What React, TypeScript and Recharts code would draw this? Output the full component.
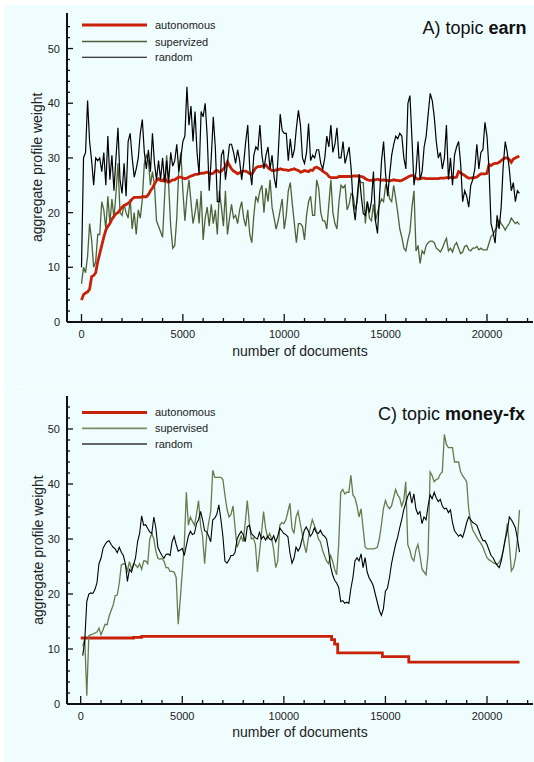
import React from 'react';
import { LineChart, Line, XAxis, YAxis } from 'recharts';

// ---------- data ----------
const DOC_STEP = 100; // documents between consecutive samples (sample i is at i * DOC_STEP)

// Panel A: topic earn
const earnAutonomous = [
  4, 5, 5.3, 5.5, 6, 8.3, 8.5, 9, 11, 12.5,
  14, 15.5, 16.8, 17.5, 18, 18.8, 19.3, 19.8, 20, 20.5,
  21, 21.3, 21.5, 21.7, 22, 22.5, 22.8, 22.8, 22.8, 22.8,
  22.9, 22.9, 22.9, 23.3, 24, 24.5, 25.2, 25.9, 26.2, 25.9,
  25.8, 26.3, 25.8, 25.5, 25.8, 26, 26, 26.3, 26.5, 26.5,
  26.3,
  26.2, 26.3, 26.5, 26.7, 26.8, 27, 27, 27.1, 27.2, 27.2,
  27.3, 27.4, 27.2, 27.1, 27.2, 27.6, 27.7, 27.4, 27.6, 28,
  28.4, 29.3, 28.6, 28, 27.6, 27.4, 27.1, 27.3, 27.5, 27.6,
  27.6, 27.4, 27.1, 27, 27.6, 28.2, 28.4, 28.4, 28.5, 28.5,
  28.7, 28.2, 27.9, 27.7, 27.7, 27.8, 27.8, 28, 27.9, 27.8,
  27.8, 27.7, 27.8, 27.9, 28, 27.8, 27.7,
  27.4, 27.5, 27.7, 27.6, 27.5, 27.8, 27.7, 28.2, 28.3, 28.1,
  27.9, 27.6, 27.3, 27.1, 26.6, 26.4, 26.4, 26.4, 26.4, 26.6,
  26.6, 26.6, 26.6, 26.6, 26.6, 26.6, 26.7, 26.7, 26.7, 26.7,
  26.6, 26.5, 26.2, 26, 25.9, 25.9, 26, 26, 26.1, 26,
  25.9, 26, 25.9, 25.9, 25.8, 25.9, 26, 25.9, 25.9, 25.8,
  25.9, 26.1, 26.3, 26.5, 26.7, 26.8, 26.7,
  26.3, 26.1, 26.2, 26.3, 26.3, 26.2, 26.2, 26.2, 26.2, 26.2,
  26.2, 26.2, 26.3, 26.3, 26.3, 26.4, 26.4, 26.4, 26.4, 26.4,
  26.5, 27.5, 27.3, 27, 26.8, 26.5, 26.3, 26.3, 26.4, 26.4,
  26.5, 26.8, 27.1, 27.1, 27.1, 27.2, 28.8, 28.6, 28.9, 29,
  29, 29.2, 29.5, 29.8, 30, 30, 29.7, 29.2, 29.8, 30,
  30.2, 30.3,
];

const earnSupervized = [
  7, 10, 9, 12, 18, 15, 10, 11, 16, 16,
  22, 20.5, 17, 23, 18, 22.5, 19, 23.5, 29, 20,
  19.5, 21.5, 20, 19, 22.5, 17, 20, 16, 20.5, 19,
  22.5, 29, 30.5, 29.5, 25, 27.5, 25, 18.5, 17.5, 16.5,
  15.5, 23, 30.5, 25, 17.5, 13.5, 14, 19, 28, 31,
  24,
  18.5, 23, 26, 22, 18, 20, 22.5, 18, 24, 15,
  19, 21, 17.5, 21.5, 18, 20.5, 16, 24, 21, 17.5,
  24, 16, 19, 21.5, 19, 19.5, 18, 20.5, 22, 19,
  17.5, 20.5, 16, 14.5, 19.5, 23, 22, 24, 25, 20,
  24.5, 22, 26, 21, 19, 17, 18.5, 20.5, 22.5, 17,
  19.5, 24, 25.5, 21.5, 18, 14.5, 18,
  18, 17.5, 15, 19.5, 22, 23, 19.5, 19.5, 26, 24.5,
  20, 18.5, 18.5, 17, 21.5, 26, 20, 18, 17, 22,
  25, 24.5, 25, 20.5, 21.5, 23.5, 23, 20.5, 22, 26,
  25.5, 25.5, 18, 22, 19, 18.5, 21.5, 18.5, 20, 21.5,
  22.5, 22, 25, 24.5, 22.5, 22, 25, 22.5, 20, 17,
  15.5, 13.5, 13, 15, 16.5, 21, 24,
  13, 14, 10.7, 13, 12.5, 14, 14.5, 14.8, 14.8, 14.5,
  13.5, 13.2, 12.8, 13.5, 14.5, 15.3, 13, 13.5, 12.8, 14,
  14.5, 13.5, 12.5, 12.8, 13.8, 14, 13.2, 13, 13.5, 13.5,
  13.8, 13.2, 13.5, 13.2, 13.2, 13.2, 14.4, 15.6, 16, 16.8,
  17.4, 18.6, 18, 17.5, 16.8, 17.5, 18, 19, 18.5, 18,
  18.3, 17.8,
];

const earnRandom = [
  10, 30, 31, 40.5, 33, 29.5, 25, 30, 29.5, 30,
  27.5, 31, 25, 34, 26, 30.5, 24, 30, 35.5, 26,
  23.5, 29, 23, 33, 34.5, 30, 26.5, 28, 30, 34.5,
  37, 31, 28, 31.5, 27.5, 34.5, 29, 26, 29.5, 26,
  30, 25.5, 29.5, 25.5, 31, 28.5, 29.5, 32.5, 27.5, 30,
  33,
  34, 43, 36, 39.5, 33, 38.5, 31, 27, 38.5, 37.5,
  40, 34, 24, 30, 37.5, 32, 22, 22, 30.5, 31.5,
  26, 29, 32.5, 32.5, 31, 29, 31.5, 29.5, 26, 29,
  33, 36, 28, 25, 30.5, 32, 31.5, 36, 30.5, 28,
  30.5, 32, 28, 30.5, 26.5, 24.5, 30.5, 38, 35, 34.5,
  34.5, 29.5, 33.5, 30, 31.5, 35.5, 38.7,
  36, 30, 29, 31, 36.3, 29.5, 30.5, 30, 31.5, 31.5,
  29, 28, 30, 34, 32, 36, 31, 32.5, 35.5, 30,
  30, 33, 29, 30.5, 32, 28, 21.5, 18.6, 23, 27,
  23, 19.8, 19.5, 22, 20, 22, 27.5, 18.5, 16.2, 23,
  29.5, 33, 27, 23, 27, 30.5, 32.5, 34, 33.5, 34.5,
  34, 30, 28, 40, 41.4, 33.5, 25,
  27.5, 33, 26, 27.5, 32, 34, 38, 41.8, 40.5, 37.5,
  33, 30, 31, 28, 30, 36, 26, 30, 25, 30.5,
  32, 33, 29, 22, 24, 23, 21, 25, 26, 28,
  32.5, 28, 31, 31.5, 36.5, 34, 28, 18, 16.5, 14.4,
  19.5, 17, 21, 28.5, 33, 31, 28, 24, 25.5, 22,
  24, 23.5,
];

// Panel C: topic money-fx
const fxSupervised = [
  null, 10.5, 11.8, 1.5, 12.4, 12.6, 12.7, 12.9, 13.1, 13.8,
  12.6, 13.5, 14.5, 14.4, 16, 17, 18, 19.7, 19.8, 22,
  25.3, 25.5, 25.4, 24.2, 25.9, 24.5, 25.5, 25.3, 24.8, 25.5,
  24.5, 26, 26, 25.5, 30, 31, 30, 27.8, 26.5, 26.3,
  26.5, 26, 24.8, 24.8, 24.1, 24.1, 24, 23, 14.5, 19,
  24,
  29, 38.5, 32.5, 34, 33.2, 32.5, 34.5, 37, 32.5, 30.5,
  25.5, 30.5, 33, 35, 42.5, 41.2, 41.2, 41.2, 41.2, 40.8,
  38, 35.5, 34, 34.5, 36, 32, 28.5, 29.5, 30.5, 29.5,
  33, 37, 33, 30, 30.2, 29, 24, 27.5, 31, 35,
  32, 30.2, 31, 30, 28, 24.8, 26, 32.5, 33, 32.8,
  33.5, 35, 36.5, 32, 31, 34, 35,
  33, 31, 29, 27.5, 30, 32, 33.5, 32.5, 31.5, 30,
  29.5, 28, 27, 26, 25.5, 27, 26, 24.5, 23.5, 29,
  38.5, 39, 38.2, 38.5, 38.5, 41.6, 38, 37.5, 36, 34,
  35.5, 32, 28.5, 28.2, 28.2, 28.2, 28.2, 28.3, 28.5, 30,
  32.5, 35.5, 37, 36, 35.5, 36, 37.5, 39, 38, 37.5,
  36, 37, 40.4, 29, 28, 26.5, 26,
  28, 29, 27, 24.5, 24, 23.5, 27.3, 42.2, 41.5, 40.4,
  40.8, 41, 41.8, 42.2, 49, 47.2, 46.6, 46.6, 46.6, 44,
  44, 44, 42.2, 41.5, 41, 40.4, 35.4, 33, 31.6, 31,
  30.3, 29.7, 29.2, 28.5, 27.5, 26.6, 26.2, 26, 25.7, 25.5,
  25.4, 25.8, 26.5, 27.9, 30, 32.8, 29, 24.2, 24.8, 26.5,
  30, 35.3,
];

const fxRandom = [
  null, 8.8, 11.5, 18.6, 20, 20.2, 20.1, 20.8, 22, 25.5,
  26.5, 28.3, 29, 29.5, 29.7, 29, 28.5, 28.2, 27.5, 28.5,
  27.6, 27, 25.5, 22.3, 24.5, 24, 25.3, 26.6, 29.5, 31,
  34.2, 32.5, 32.6, 31.9, 31.3, 31, 34, 32, 28.5, 27.7,
  27, 26.5, 27.2, 27.3, 27, 29.5, 30.5, 29, 27.8, 28,
  28.3,
  27, 28.8, 30.5, 31.4, 30.8, 31, 32.8, 33.5, 35, 33.5,
  31.5, 31.3, 30.5, 29.5, 33.5, 33.8, 34.5, 36.2, 33.6, 30.5,
  26, 25.6, 26.2, 27, 27, 27.6, 30, 30.8, 31.4, 30.8,
  29.5, 32.2, 32.5, 31, 30.6, 30.2, 30, 31.2, 30, 30.5,
  29.8, 30.5, 30, 29.8, 30.6, 29.5, 30.5, 32, 31.5, 31,
  30.8, 30.4, 27.5, 25.6, 26.5, 28.5, 27.8,
  28.5, 30, 31.5, 32.2, 31.5, 30.5, 31, 32, 31.2, 31,
  31.6, 30.8, 30.5, 30, 28, 25, 23.5, 22.5, 22, 21.2,
  18.6, 18.8, 18.3, 18.5, 18.3, 21, 23, 26, 26.6, 26,
  27.3, 24.8, 26.6, 24, 22.9, 22.3, 21.5, 20, 18.5, 17,
  16.1, 17.3, 20.5, 21.1, 23, 25.5, 27.3, 29, 30.3, 32,
  33.5, 35.3, 36.5, 37.8, 38.5, 36.5, 38.2,
  35.5, 34.5, 35, 32.8, 34, 33.5, 36, 38, 37.3, 38.5,
  37.5, 36.8, 37.2, 36, 35.5, 35.6, 34.8, 35.3, 33, 31.5,
  31, 30.5, 30.8, 30.3, 31.5, 33, 34, 33.5, 33, 32.8,
  32.5, 31.5, 30.5, 29.7, 29.7, 29, 28, 27, 26.6, 25.8,
  25.2, 24.8, 26, 28, 30, 31.5, 34, 33.5, 32.8, 32,
  30, 27.6,
];

// autonomous for money-fx is a step function: document where each level starts, and the level
const fxAutonomousDocs = [0, 2600, 3000, 12350, 12500, 12650, 14850, 16150, 21600];
const fxAutonomousValues = [12.0, 12.1, 12.3, 11.7, 10.9, 9.3, 8.6, 7.6, 7.6];

const xTicks = [0, 1000, 2000, 3000, 4000, 5000, 6000, 7000, 8000, 9000, 10000, 11000,
  12000, 13000, 14000, 15000, 16000, 17000, 18000, 19000, 20000, 21000, 22000];
const yTicks = [0, 2, 4, 6, 8, 10, 12, 14, 16, 18, 20, 22, 24, 26, 28, 30, 32, 34, 36, 38,
  40, 42, 44, 46, 48, 50, 52, 54];

// ---------- tables ----------
const earnRows = earnRandom.map((_, i) => ({
  doc: i * DOC_STEP,
  autonomous: earnAutonomous[i],
  supervized: earnSupervized[i],
  random: earnRandom[i],
}));
const fxRows = fxRandom.map((_, i) => ({
  doc: i * DOC_STEP,
  supervised: fxSupervised[i],
  random: fxRandom[i],
}));
const fxAutoRows = fxAutonomousDocs.map((d, i) => ({ doc: d, autonomous: fxAutonomousValues[i] }));

// ---------- styling ----------
const FONT = '"Liberation Sans", Arial, Helvetica, sans-serif';
const BG = '#effdfe';
const RED = '#c92108';
const OLIVE1 = '#4e6236';
const OLIVE2 = '#687b4c';
const AXIS = '#111';

const XTick = (props: any) => {
  const { x, y, payload } = props;
  const v = payload.value;
  const major = v % 5000 === 0;
  return (
    <g>
      <line x1={x} x2={x} y1={y} y2={y - (major ? 8 : 4)} stroke={AXIS} strokeWidth={1.3} />
      {major ? (
        <text x={x} y={y + 16} textAnchor="middle" fontSize={11} fill="#222" fontFamily={FONT}>
          {v}
        </text>
      ) : null}
    </g>
  );
};

const YTick = (props: any) => {
  const { x, y, payload } = props;
  const v = payload.value;
  const major = v % 10 === 0;
  return (
    <g>
      <line x1={x} x2={x + (major ? 6 : 3)} y1={y} y2={y} stroke={AXIS} strokeWidth={1.3} />
      {major ? (
        <text x={x - 7} y={y + 4} textAnchor="end" fontSize={11} fill="#222" fontFamily={FONT}>
          {v}
        </text>
      ) : null}
    </g>
  );
};

export default function App() {
  const earnX = [-715, 22270];
  const earnY = [0, 56.5];
  const fxX = [-674, 22264];
  const fxY = [0, 56];

  const legendRow = (y: number, color: string, width: number, label: string) => (
    <g key={label}>
      <line x1={82} x2={147} y1={y} y2={y} stroke={color} strokeWidth={width} />
      <text x={155} y={y + 4} fontSize={11} fill="#222" fontFamily={FONT}>{label}</text>
    </g>
  );

  return (
    <div style={{ position: 'absolute', left: 0, top: 0, width: 534, height: 762, background: '#fff', fontFamily: FONT, overflow: 'hidden' }}>
      <div style={{ position: 'absolute', left: 4, top: 5, width: 530, height: 381, background: BG }} />
      <div style={{ position: 'absolute', left: 4, top: 387, width: 530, height: 375, background: BG }} />

      <div style={{ position: 'absolute', left: 0, top: 0 }}>
        <LineChart width={534} height={386} data={earnRows} margin={{ top: 13, right: 1, bottom: 28, left: 0 }}>
          <XAxis dataKey="doc" type="number" domain={earnX} allowDataOverflow ticks={xTicks} interval={0}
            height={36} tickSize={0} tickMargin={0} tickLine={false} tick={XTick}
            axisLine={{ stroke: AXIS, strokeWidth: 2 }} />
          <XAxis xAxisId="top" orientation="top" type="number" domain={earnX} allowDataOverflow height={0}
            tick={false} tickLine={false} axisLine={{ stroke: AXIS, strokeWidth: 1.3 }} />
          <YAxis type="number" domain={earnY} allowDataOverflow ticks={yTicks} interval={0} width={67}
            tickSize={0} tickMargin={0} tickLine={false} tick={YTick}
            axisLine={{ stroke: AXIS, strokeWidth: 2 }} />
          <YAxis yAxisId="right" orientation="right" type="number" domain={earnY} allowDataOverflow width={0}
            tick={false} tickLine={false} axisLine={{ stroke: AXIS, strokeWidth: 1.3 }} />
          <Line dataKey="supervized" stroke={OLIVE1} strokeWidth={1.3} dot={false} activeDot={false} isAnimationActive={false} />
          <Line dataKey="autonomous" stroke={RED} strokeWidth={2.8} dot={false} activeDot={false} isAnimationActive={false} />
          <Line dataKey="random" stroke="#000" strokeWidth={1.2} dot={false} activeDot={false} isAnimationActive={false} />
        </LineChart>
      </div>

      <div style={{ position: 'absolute', left: 0, top: 386 }}>
        <LineChart width={534} height={376} data={fxRows} margin={{ top: 10, right: 1, bottom: 22, left: 0 }}>
          <XAxis dataKey="doc" type="number" domain={fxX} allowDataOverflow ticks={xTicks} interval={0}
            height={36} tickSize={0} tickMargin={0} tickLine={false} tick={XTick}
            axisLine={{ stroke: AXIS, strokeWidth: 2 }} />
          <XAxis xAxisId="top" orientation="top" type="number" domain={fxX} allowDataOverflow height={0}
            tick={false} tickLine={false} axisLine={{ stroke: AXIS, strokeWidth: 1.3 }} />
          <YAxis type="number" domain={fxY} allowDataOverflow ticks={yTicks} interval={0} width={67}
            tickSize={0} tickMargin={0} tickLine={false} tick={YTick}
            axisLine={{ stroke: AXIS, strokeWidth: 2 }} />
          <YAxis yAxisId="right" orientation="right" type="number" domain={fxY} allowDataOverflow width={0}
            tick={false} tickLine={false} axisLine={{ stroke: AXIS, strokeWidth: 1.3 }} />
          <Line data={fxAutoRows} dataKey="autonomous" type="stepAfter" stroke={RED} strokeWidth={2.8} dot={false} activeDot={false} isAnimationActive={false} />
          <Line dataKey="supervised" stroke={OLIVE2} strokeWidth={1.3} dot={false} activeDot={false} isAnimationActive={false} />
          <Line dataKey="random" stroke="#000" strokeWidth={1.1} dot={false} activeDot={false} isAnimationActive={false} />
        </LineChart>
      </div>

      <svg width={534} height={762} style={{ position: 'absolute', left: 0, top: 0, pointerEvents: 'none' }}>
        {/* panel A */}
        <text x={526.5} y={34} textAnchor="end" fontSize={18} fill="#111" fontFamily={FONT}>
          A) topic <tspan fontWeight="bold">earn</tspan>
        </text>
        {legendRow(24.9, RED, 3, 'autonomous')}
        {legendRow(41.5, OLIVE1, 1.3, 'supervized')}
        {legendRow(57.2, '#000', 1.1, 'random')}
        <text x={300} y={355.5} textAnchor="middle" fontSize={14} fill="#222" fontFamily={FONT}>number of documents</text>
        <text x={42.5} y={167.3} transform="rotate(-90 42.5 167.3)" textAnchor="middle" fontSize={14} fill="#222" fontFamily={FONT}>aggregate profile weight</text>

        {/* panel C */}
        <text x={525} y={419.5} textAnchor="end" fontSize={18} fill="#111" fontFamily={FONT}>
          C) topic <tspan fontWeight="bold">money-fx</tspan>
        </text>
        {legendRow(412.4, RED, 3, 'autonomous')}
        {legendRow(428.4, '#7c8d63', 1.8, 'supervised')}
        {legendRow(444, '#333', 1.3, 'random')}
        <text x={300} y={737} textAnchor="middle" fontSize={14} fill="#222" fontFamily={FONT}>number of documents</text>
        <text x={42.5} y={550} transform="rotate(-90 42.5 550)" textAnchor="middle" fontSize={14} fill="#222" fontFamily={FONT}>aggregate profile weight</text>
      </svg>
    </div>
  );
}
